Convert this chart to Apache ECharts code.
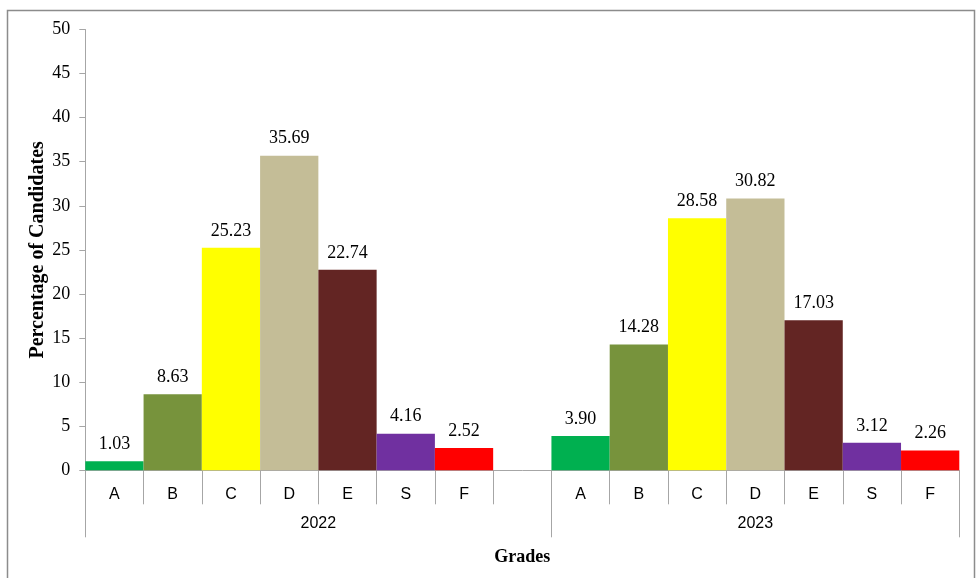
<!DOCTYPE html>
<html>
<head>
<meta charset="utf-8">
<script src="https://cdn.jsdelivr.net/npm/echarts@6/dist/echarts.min.js"></script>
<style>
  html, body { margin: 0; padding: 0; background: #fff; }
  #chart { width: 976px; height: 578px; }
</style>
</head>
<body>
<div id="chart"></div>
<script>
// Grade distribution for two exam years
const grades = ['A', 'B', 'C', 'D', 'E', 'S', 'F'];
const years = ['2022', '2023'];
const values2022 = [1.03, 8.63, 25.23, 35.69, 22.74, 4.16, 2.52];
const values2023 = [3.90, 14.28, 28.58, 30.82, 17.03, 3.12, 2.26];
const gradeColors = ['#00B050', '#77933C', '#FFFF00', '#C4BD97', '#632523', '#7030A0', '#FF0000'];
const yTicks = { min: 0, max: 50, step: 5 };

// One category axis: year-1 grades, an empty spacer slot, year-2 grades
const categories = [...grades, '', ...grades];
const barData = [];
values2022.forEach((v, i) => barData.push({ value: v, itemStyle: { color: gradeColors[i] } }));
barData.push({ value: '-' });
values2023.forEach((v, i) => barData.push({ value: v, itemStyle: { color: gradeColors[i] } }));

// Year band boundaries and centres on a 0..N slot scale
const slotCount = categories.length;
const bandEdges = [0, grades.length + 1, slotCount];
const bandCentres = [bandEdges[0] + (bandEdges[1] - bandEdges[0]) / 2, bandEdges[1] + (bandEdges[2] - bandEdges[1]) / 2];

const axisGray = '#A6A6A6';
const serif = '"Liberation Serif", "Times New Roman", serif';
const sans = '"Liberation Sans", Arial, sans-serif';

const chart = echarts.init(document.getElementById('chart'), null, { renderer: 'canvas' });
chart.setOption({
  animation: false,
  backgroundColor: '#fff',
  graphic: [{
    type: 'rect',
    shape: { x: 7.5, y: 10.5, width: 967, height: 620 },
    style: { fill: 'none', stroke: '#8C8C8C', lineWidth: 1.5 },
    silent: true,
    z: -1
  }],
  grid: { left: 85.3, right: 16.7, top: 29.5, bottom: 107.7 },
  xAxis: [{
    type: 'category',
    data: categories,
    boundaryGap: true,
    axisLine: { lineStyle: { color: axisGray, width: 1 } },
    axisTick: { show: true, length: 34, interval: 0, lineStyle: { color: axisGray } },
    axisLabel: { interval: 0, margin: 16, color: '#000', fontFamily: sans, fontSize: 16 }
  }, {
    type: 'value',
    min: 0,
    max: slotCount,
    position: 'bottom',
    axisLine: { show: false },
    splitLine: { show: false },
    axisTick: { show: true, length: 67, customValues: bandEdges, lineStyle: { color: axisGray } },
    axisLabel: {
      customValues: bandCentres,
      margin: 45,
      color: '#000',
      fontFamily: sans,
      fontSize: 16,
      formatter: v => years[bandCentres.indexOf(v)] || ''
    },
    name: 'Grades',
    nameLocation: 'middle',
    nameGap: 78,
    nameMoveOverlap: false,
    nameTextStyle: { fontFamily: serif, fontWeight: 'bold', fontSize: 18, color: '#000' }
  }],
  yAxis: {
    type: 'value',
    min: yTicks.min,
    max: yTicks.max,
    interval: yTicks.step,
    axisLine: { show: true, lineStyle: { color: axisGray } },
    axisTick: { show: true, length: 6, lineStyle: { color: axisGray } },
    splitLine: { show: false },
    axisLabel: { margin: 15, color: '#000', fontFamily: serif, fontSize: 18 },
    name: 'Percentage of Candidates',
    nameLocation: 'middle',
    nameGap: 37,
    nameMoveOverlap: false,
    nameTextStyle: { fontFamily: serif, fontWeight: 'bold', fontSize: 20, color: '#000' }
  },
  series: [{
    type: 'bar',
    xAxisIndex: 0,
    data: barData,
    barCategoryGap: '0%',
    label: {
      show: true,
      position: 'top',
      distance: 8,
      color: '#000',
      fontFamily: serif,
      fontSize: 18,
      formatter: p => Number(p.value).toFixed(2)
    }
  }]
});
</script>
</body>
</html>
